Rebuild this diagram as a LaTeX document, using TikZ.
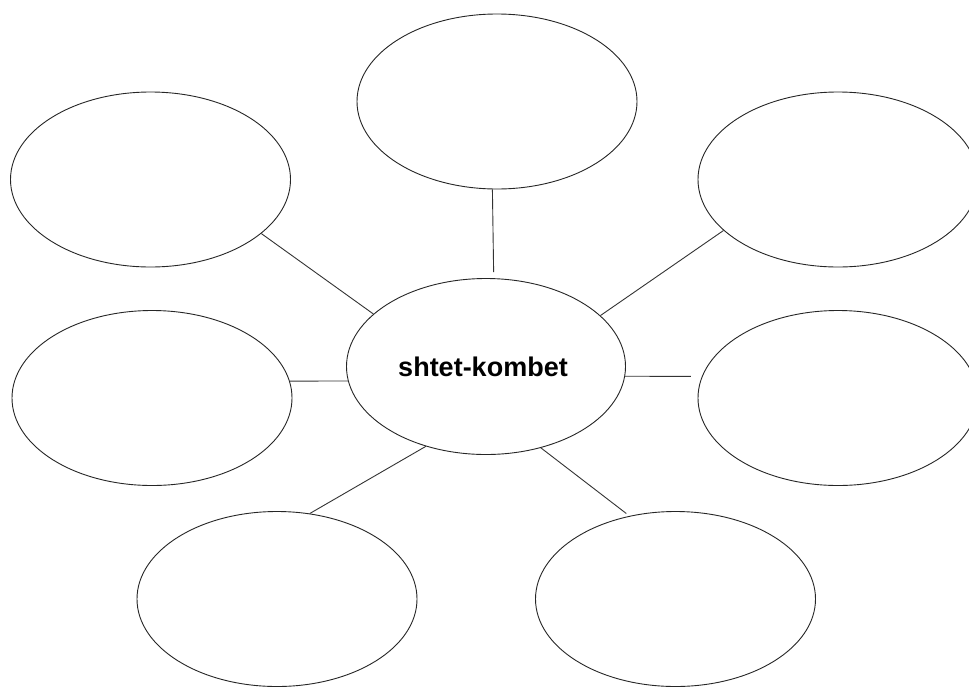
\documentclass[tikz,border=0pt]{standalone}
\usepackage{fontspec}
\setmainfont{Liberation Sans}
\usetikzlibrary{shapes.geometric}
\tikzset{
  bubble/.style={draw=black!85, line width=0.9pt, ellipse, inner sep=0pt,
    minimum width=280pt, minimum height=175pt},
  link/.style={draw=black!80, line width=0.9pt}
}
\begin{document}
\begin{tikzpicture}[x=1pt,y=-1pt]
\useasboundingbox (0,0) rectangle (969,686);
\clip (0,0) rectangle (969,686);
\fill[white] (0,0) rectangle (969,686);
\node[bubble] (top) at (497,101.5) {};
\node[bubble] (tl) at (150.5,179.5) {};
\node[bubble] (tr) at (838,179.5) {};
\node[bubble] (lm) at (152,398) {};
\node[bubble] (rm) at (838,398) {};
\node[bubble] (bl) at (277,599) {};
\node[bubble] (br) at (675.5,599) {};
\node[bubble, minimum width=279pt, minimum height=176pt,
  font=\bfseries\fontsize{27}{32}\selectfont] (c) at (486,366.5) {\hspace*{-6pt}shtet-kombet};
\draw[link, shorten >=6pt] (top.-93) -- (c.85);
\draw[link] (tl.-26.5) -- (c.155.1);
\draw[link] (tr.-156.3) -- (c.24.8);
\draw[link] (lm.7.1) -- (c.-174);
\draw[link, shorten >=11pt] (c.-4.7) -- (rm.171.65);
\draw[link] (bl.69.8) -- (c.-127.5);
\draw[link, shorten >=4pt] (c.-56.6) -- (br.119.1);
\end{tikzpicture}
\end{document}
